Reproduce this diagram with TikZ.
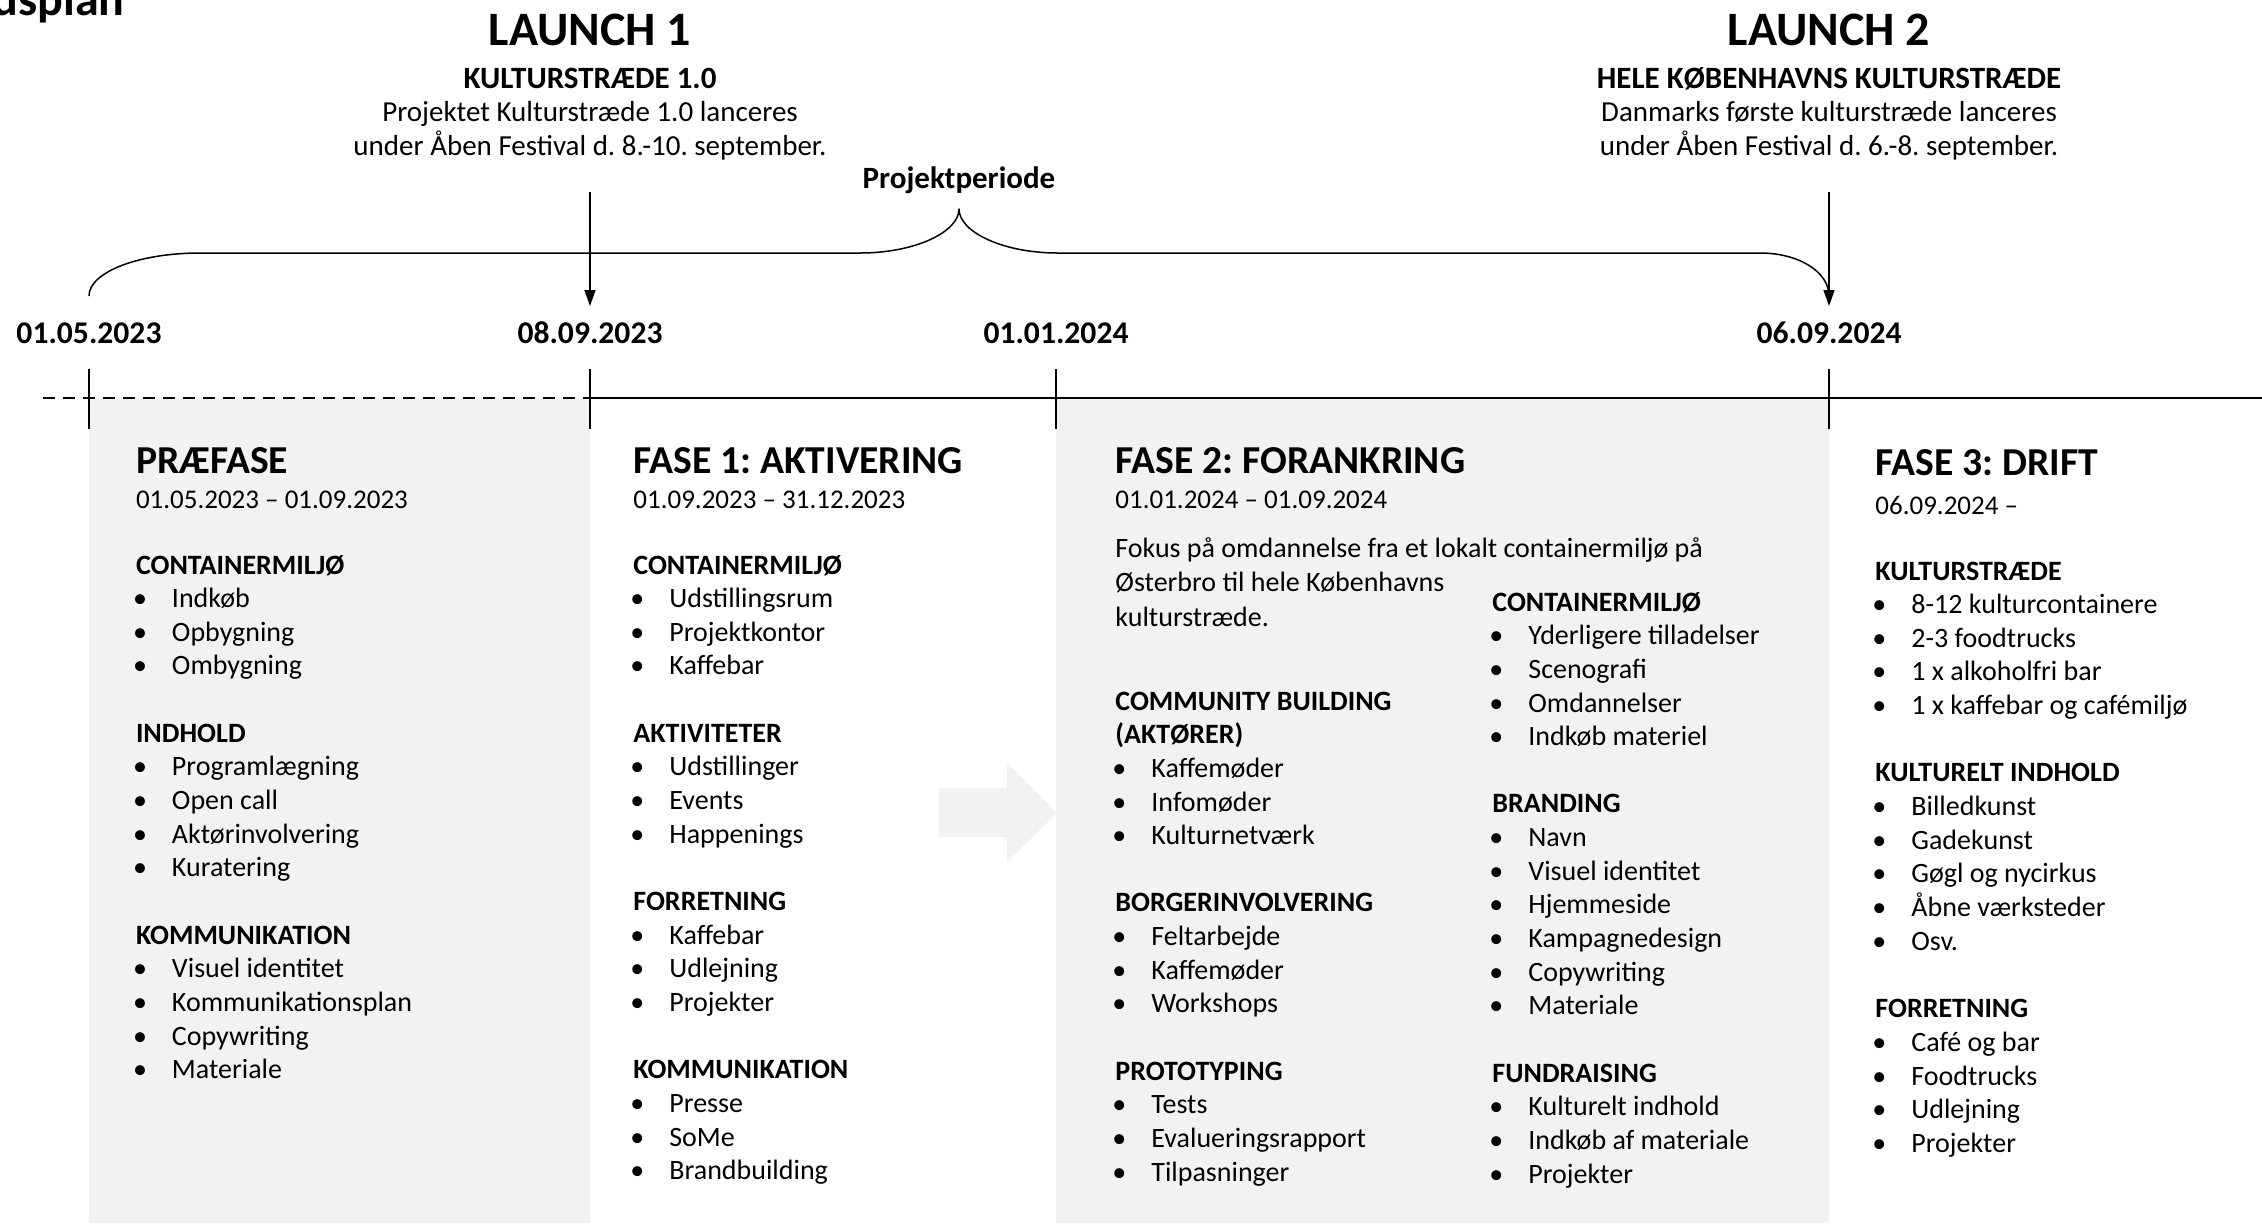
\documentclass[tikz,border=0pt]{standalone}
\usepackage{fontspec}
\setmainfont{Carlito}
\usetikzlibrary{arrows.meta}
\frenchspacing
\definecolor{fasegrey}{HTML}{F2F2F2}
\newcommand{\hdr}[1]{\textbf{#1}}
\newcommand{\itm}[1]{\makebox[18pt][l]{\hspace{-1.5pt}•}#1}
\newcommand{\venstre}[1]{\begin{tabular}[t]{@{}l@{}}#1\end{tabular}}
\newcommand{\midt}[1]{\begin{tabular}[t]{@{}c@{}}#1\end{tabular}}
\def\blank{16.83pt}

\begin{document}
\begin{tikzpicture}[x=0.5pt, y=-0.5pt, line join=round, >={Triangle[length=8pt,width=5.5pt]}]
		\tikzset{launch/.style={font=\bfseries\fontsize{24}{28}\selectfont, inner sep=0pt, anchor=base},
			undertitel/.style={font=\bfseries\fontsize{15.5}{18}\selectfont, inner sep=0pt, anchor=base},
			beskrivelse/.style={font=\fontsize{14.5}{17.3}\selectfont, inner sep=0pt, anchor=base},
			dato/.style={font=\bfseries\fontsize{15.8}{18}\selectfont, inner sep=0pt, anchor=base},
			fasetitel/.style={font=\bfseries\fontsize{19.8}{22}\selectfont, inner sep=0pt, anchor=base west},
			faseperiode/.style={font=\fontsize{13.5}{16}\selectfont, inner sep=0pt, anchor=base west},
			liste/.style={font=\fontsize{14}{16.83}\selectfont, inner sep=0pt, anchor=base west}}
		\def \ytl{398}
		\def \xa{89}
		\def \xb{590}
		\def \xc{1056}
		\def \xd{1829}
		\useasboundingbox (0,0) rectangle (2262,1223);
		\clip (0,0) rectangle (2262,1223);
		\fill[fasegrey] (\xa,\ytl) rectangle (\xb,1223);
		\fill[fasegrey] (\xc,\ytl) rectangle (\xd,1223);
		\fill[fasegrey] (939,788) -- (1007,788) -- (1007,763) -- (1057,813) -- (1007,862) -- (1007,837) -- (939,837) -- cycle;
		\node[font=\bfseries\fontsize{24}{28}\selectfont, inner sep=0pt, anchor=base east] (tidsplan) at (125,15) {Tidsplan};
		\node[launch] (launch1) at (\xb,45) {LAUNCH 1};
		\node[undertitel] (kultur1) at (\xb,88) {KULTURSTRÆDE 1.0};
		\node[beskrivelse] (besk1) at (\xb,121) {\midt{Projektet Kulturstræde 1.0 lanceres\\under Åben Festival d. 8.-10. september.}};
		\node[launch] (launch2) at (\xd,45) {LAUNCH 2};
		\node[undertitel] (kultur2) at (\xd,88) {HELE KØBENHAVNS KULTURSTRÆDE};
		\node[beskrivelse] (besk2) at (\xd,121) {\midt{Danmarks første kulturstræde lanceres\\under Åben Festival d. 6.-8. september.}};
		\node[undertitel] (periode) at (959,188) {Projektperiode};
		\coordinate (pil1) at (\xb,192);
		\coordinate (pil1slut) at (\xb,306);
		\coordinate (pil2) at (\xd,192);
		\coordinate (pil2slut) at (\xd,306);
		\draw[line width=0.75pt, ->] (pil1) -- (pil1slut);
		\draw[line width=0.75pt, ->] (pil2) -- (pil2slut);
		\draw[line width=0.75pt] (\xa,296) .. controls (\xa,272) and (139,253) .. (200,253) -- (860,253)
			.. controls (915,253) and (959,232) .. (959,209) .. controls (959,232) and (1003,253) .. (1058,253)
			-- (1760,253) .. controls (1799,253) and (\xd,272) .. (\xd,296);
		\node[dato] (dato1) at (\xa,343) {01.05.2023};
		\node[dato] (dato2) at (\xb,343) {08.09.2023};
		\node[dato] (dato3) at (\xc,343) {01.01.2024};
		\node[dato] (dato4) at (\xd,343) {06.09.2024};
		\draw[line width=1.1pt, dash pattern=on 6pt off 4pt] (43,\ytl) -- (\xb,\ytl);
		\draw[line width=1.1pt] (\xb,\ytl) -- (2262,\ytl);
		\foreach \x in {\xa,\xb,\xc,\xd}
			\draw[line width=0.6pt] (\x,369) -- (\x,429);
		\node[fasetitel] (praefase) at (135.6,473) {PRÆFASE};
		\node[faseperiode] (praeperiode) at (135.6,508) {01.05.2023 – 01.09.2023};
		\node[liste] (praeliste) at (135.6,574) {\venstre{\hdr{CONTAINERMILJØ}\\ \itm{Indkøb}\\ \itm{Opbygning}\\ \itm{Ombygning}\\[\blank]
			\hdr{INDHOLD}\\ \itm{Programlægning}\\ \itm{Open call}\\ \itm{Aktørinvolvering}\\ \itm{Kuratering}\\[\blank]
			\hdr{KOMMUNIKATION}\\ \itm{Visuel identitet}\\ \itm{Kommunikationsplan}\\ \itm{Copywriting}\\ \itm{Materiale}}};
		\node[fasetitel] (fase1) at (633,473) {FASE 1: AKTIVERING};
		\node[faseperiode] (periode1) at (633,508) {01.09.2023 – 31.12.2023};
		\node[liste] (liste1) at (633,574) {\venstre{\hdr{CONTAINERMILJØ}\\ \itm{Udstillingsrum}\\ \itm{Projektkontor}\\ \itm{Kaffebar}\\[\blank]
			\hdr{AKTIVITETER}\\ \itm{Udstillinger}\\ \itm{Events}\\ \itm{Happenings}\\[\blank]
			\hdr{FORRETNING}\\ \itm{Kaffebar}\\ \itm{Udlejning}\\ \itm{Projekter}\\[\blank]
			\hdr{KOMMUNIKATION}\\ \itm{Presse}\\ \itm{SoMe}\\ \itm{Brandbuilding}}};
		\node[fasetitel] (fase2) at (1115,473) {FASE 2: FORANKRING};
		\node[faseperiode] (periode2) at (1115,508) {01.01.2024 – 01.09.2024};
		\node[liste, font=\fontsize{14}{17.3}\selectfont] (fokus) at (1115,557) {\venstre{Fokus på omdannelse fra et lokalt containermiljø på\\Østerbro til hele Københavns\\kulturstræde.}};
		\node[liste] (liste2a) at (1115,710) {\venstre{\hdr{COMMUNITY BUILDING}\\ \hdr{(AKTØRER)}\\ \itm{Kaffemøder}\\ \itm{Infomøder}\\ \itm{Kulturnetværk}\\[\blank]
			\hdr{BORGERINVOLVERING}\\ \itm{Feltarbejde}\\ \itm{Kaffemøder}\\ \itm{Workshops}\\[\blank]
			\hdr{PROTOTYPING}\\ \itm{Tests}\\ \itm{Evalueringsrapport}\\ \itm{Tilpasninger}}};
		\node[liste] (liste2b) at (1492,611) {\venstre{\hdr{CONTAINERMILJØ}\\ \itm{Yderligere tilladelser}\\ \itm{Scenografi}\\ \itm{Omdannelser}\\ \itm{Indkøb materiel}\\[\blank]
			\hdr{BRANDING}\\ \itm{Navn}\\ \itm{Visuel identitet}\\ \itm{Hjemmeside}\\ \itm{Kampagnedesign}\\ \itm{Copywriting}\\ \itm{Materiale}\\[\blank]
			\hdr{FUNDRAISING}\\ \itm{Kulturelt indhold}\\ \itm{Indkøb af materiale}\\ \itm{Projekter}}};
		\node[fasetitel] (fase3) at (1875,475) {FASE 3: DRIFT};
		\node[faseperiode] (periode3) at (1875,514) {06.09.2024 –};
		\node[liste] (liste3) at (1875,580) {\venstre{\hdr{KULTURSTRÆDE}\\ \itm{8-12 kulturcontainere}\\ \itm{2-3 foodtrucks}\\ \itm{1 x alkoholfri bar}\\ \itm{1 x kaffebar og cafémiljø}\\[\blank]
			\hdr{KULTURELT INDHOLD}\\ \itm{Billedkunst}\\ \itm{Gadekunst}\\ \itm{Gøgl og nycirkus}\\ \itm{Åbne værksteder}\\ \itm{Osv.}\\[\blank]
			\hdr{FORRETNING}\\ \itm{Café og bar}\\ \itm{Foodtrucks}\\ \itm{Udlejning}\\ \itm{Projekter}}};
		\end{tikzpicture}
\end{document}
